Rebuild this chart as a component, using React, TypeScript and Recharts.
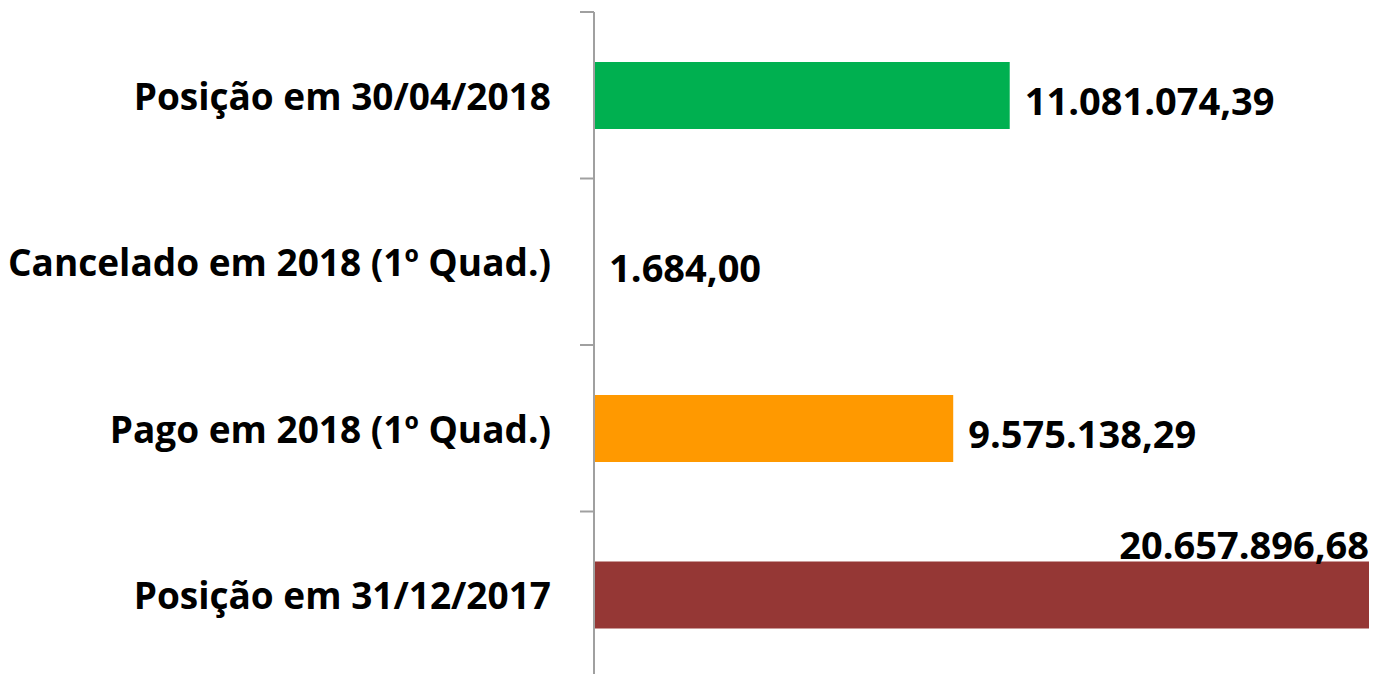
import React from 'react';
import { BarChart, Bar, XAxis, YAxis, Cell, LabelList } from 'recharts';

const categories = [
  'Posição em 30/04/2018',
  'Cancelado em 2018 (1º Quad.)',
  'Pago em 2018 (1º Quad.)',
  'Posição em 31/12/2017',
];
const values = [11081074.39, 1684.0, 9575138.29, 20657896.68];
const barColors = ['#00B050', '#FF9900', '#FF9900', '#953735'];

const data = categories.map((name, i) => ({ name, value: values[i] }));

const W = 1373;
const H = 680;
const MARGIN = { top: 12, right: 4, bottom: 2, left: 0 };
const AXIS_W = 594;
const BAND = (H - MARGIN.top - MARGIN.bottom) / categories.length;
const FONT = '"Open Sans", "Liberation Sans", sans-serif';
const AXIS_COLOR = '#a0a0a0';

// 11081074.39 -> 11.081.074,39
const fmt = (v: number) => {
  const [int, dec] = v.toFixed(2).split('.');
  return int.replace(/\B(?=(\d{3})+(?!\d))/g, '.') + ',' + dec;
};

const CategoryTick = (props: any) => {
  const { y, payload } = props;
  const top = y - BAND / 2;
  return (
    <g>
      <line x1={AXIS_W - 14} x2={AXIS_W} y1={top} y2={top} stroke={AXIS_COLOR} strokeWidth={2} />
      <text
        x={AXIS_W - 43}
        y={y}
        textAnchor="end"
        dominantBaseline="central"
        fontFamily={FONT}
        fontWeight={700}
        fontSize={37}
        fill="#000"
      >
        {payload.value}
      </text>
    </g>
  );
};

const ValueLabel = (props: any) => {
  const { x, y, width, height, value } = props;
  const end = x + width;
  const above = end + 290 > W;
  return (
    <text
      x={above ? end : end + 15}
      y={above ? y - 17 : y + height / 2 + 5}
      textAnchor={above ? 'end' : 'start'}
      dominantBaseline="central"
      fontFamily={FONT}
      fontWeight={700}
      fontSize={38}
      fill="#000"
    >
      {fmt(value)}
    </text>
  );
};

export default function App() {
  return (
    <div style={{ width: W, height: 674, overflow: 'hidden', background: '#fff' }}>
      <style>{'body{margin:0}'}</style>
      <BarChart width={W} height={H} data={data} layout="vertical" margin={MARGIN} barCategoryGap="30%">
        <XAxis type="number" hide domain={[0, 'dataMax']} />
        <YAxis
          type="category"
          dataKey="name"
          width={AXIS_W}
          interval={0}
          axisLine={{ stroke: AXIS_COLOR, strokeWidth: 2 }}
          tickLine={false}
          tick={<CategoryTick />}
        />
        <Bar dataKey="value" isAnimationActive={false}>
          {data.map((d, i) => (
            <Cell key={d.name} fill={barColors[i]} />
          ))}
          <LabelList dataKey="value" content={<ValueLabel />} />
        </Bar>
      </BarChart>
    </div>
  );
}
